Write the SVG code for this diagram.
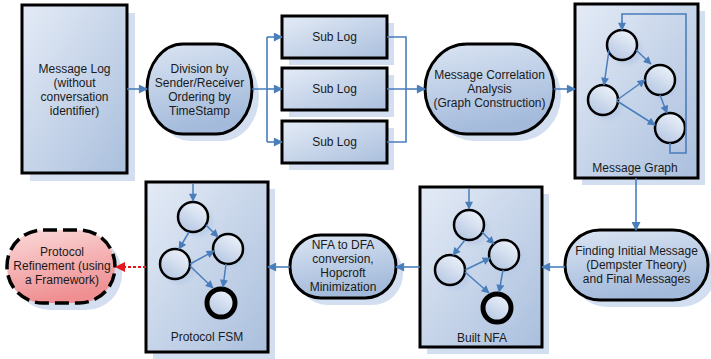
<svg xmlns="http://www.w3.org/2000/svg" width="711" height="359" viewBox="0 0 711 359">
<defs>
  <linearGradient id="gBox" x1="0" y1="0" x2="1" y2="1">
    <stop offset="0" stop-color="#e4ebf6"/>
    <stop offset="1" stop-color="#aabfdd"/>
  </linearGradient>
  <linearGradient id="gPill" x1="0" y1="0" x2="0.3" y2="1">
    <stop offset="0" stop-color="#dbe5f3"/>
    <stop offset="1" stop-color="#a3badb"/>
  </linearGradient>
  <linearGradient id="gCirc" x1="0.8" y1="0" x2="0.2" y2="1">
    <stop offset="0" stop-color="#eef3fa"/>
    <stop offset="1" stop-color="#b4c6e2"/>
  </linearGradient>
  <linearGradient id="gRed" x1="0" y1="0" x2="0.3" y2="1">
    <stop offset="0" stop-color="#fbdada"/>
    <stop offset="1" stop-color="#ef8f92"/>
  </linearGradient>
  <filter id="blur" x="-30%" y="-30%" width="160%" height="160%">
    <feGaussianBlur stdDeviation="2"/>
  </filter>
  <marker id="ah" viewBox="0 0 10 10" refX="9" refY="5" markerWidth="10" markerHeight="9" markerUnits="userSpaceOnUse" orient="auto">
    <path d="M0,0 L10,5 L0,10 Z" fill="#4a7ebb"/>
  </marker>
  <marker id="ahs" viewBox="0 0 10 10" refX="9" refY="5" markerWidth="9" markerHeight="8" markerUnits="userSpaceOnUse" orient="auto">
    <path d="M0,0 L10,5 L0,10 Z" fill="#4a7ebb"/>
  </marker>
  <marker id="ahr" viewBox="0 0 10 10" refX="9" refY="5" markerWidth="11" markerHeight="10" markerUnits="userSpaceOnUse" orient="auto">
    <path d="M0,0 L10,5 L0,10 Z" fill="#e8141b"/>
  </marker>
</defs>
<style>
  .box { fill: url(#gBox); stroke: #000; stroke-width: 3; }
  .pill { fill: url(#gPill); stroke: #000; stroke-width: 3; }
  .shadow { fill: #d3dff0; }
  .cshadow { fill: #b9cbe6; filter: url(#blur); opacity: 0.8; }
  .circ { fill: url(#gCirc); stroke: #000; stroke-width: 2.5; }
  .final { fill: url(#gCirc); stroke: #000; stroke-width: 5; }
  .t { font-family: "Liberation Sans", Arial, sans-serif; font-size: 12px; fill: #1a1a1a; text-anchor: middle; }
  .c { fill: none; stroke: #4a7ebb; stroke-width: 1.6; }
  .ca { fill: none; stroke: #4a7ebb; stroke-width: 1.6; marker-end: url(#ah); }
  .ce { fill: none; stroke: #4a7ebb; stroke-width: 1.5; marker-end: url(#ahs); }
</style>

<g id="message-log">
  <rect class="shadow" x="30" y="13" width="105" height="168"/>
  <rect class="box" x="22" y="5" width="105" height="168"/>
  <text class="t" x="74.5" y="73">Message Log</text>
  <text class="t" x="74.5" y="87">(without</text>
  <text class="t" x="74.5" y="101">conversation</text>
  <text class="t" x="74.5" y="115">identifier)</text>
</g>

<g id="division">
  <rect class="shadow" x="154" y="51" width="105" height="90" rx="36" ry="45"/>
  <rect class="pill" x="147" y="44" width="105" height="90" rx="36" ry="45"/>
  <text class="t" x="199.5" y="73">Division by</text>
  <text class="t" x="199.5" y="87">Sender/Receiver</text>
  <text class="t" x="199.5" y="101">Ordering by</text>
  <text class="t" x="199.5" y="115">TimeStamp</text>
</g>

<g id="sublog-1">
  <rect class="shadow" x="289" y="23" width="105" height="42"/>
  <rect class="box" x="282" y="16" width="105" height="42"/>
  <text class="t" x="334.5" y="41">Sub Log</text>
</g>
<g id="sublog-2">
  <rect class="shadow" x="289" y="75" width="105" height="42"/>
  <rect class="box" x="282" y="68" width="105" height="42"/>
  <text class="t" x="334.5" y="93">Sub Log</text>
</g>
<g id="sublog-3">
  <rect class="shadow" x="289" y="128" width="105" height="42"/>
  <rect class="box" x="282" y="121" width="105" height="42"/>
  <text class="t" x="334.5" y="146">Sub Log</text>
</g>

<g id="correlation">
  <rect class="shadow" x="432" y="51" width="129" height="90" rx="42" ry="45"/>
  <rect class="pill" x="425" y="44" width="129" height="90" rx="42" ry="45"/>
  <text class="t" x="489.5" y="79">Message Correlation</text>
  <text class="t" x="489.5" y="93">Analysis</text>
  <text class="t" x="489.5" y="107">(Graph Construction)</text>
</g>

<g id="message-graph">
  <rect class="shadow" x="582" y="11" width="123" height="174"/>
  <rect class="box" x="575" y="4" width="123" height="174"/>
  <circle class="cshadow" cx="627" cy="50" r="15"/>
  <circle class="cshadow" cx="665" cy="85" r="15"/>
  <circle class="cshadow" cx="608" cy="105" r="15"/>
  <circle class="cshadow" cx="675" cy="133" r="15"/>
  <circle class="circ" cx="622" cy="45" r="15"/>
  <circle class="circ" cx="660" cy="80" r="15"/>
  <circle class="circ" cx="603" cy="100" r="15"/>
  <circle class="circ" cx="670" cy="128" r="15"/>
  <path class="c" d="M670,143 V153 H686 V14 H622 V22"/>
  <path class="ce" d="M622,21 V30"/>
  <path class="ce" d="M636,50 L651,64"/>
  <path class="ce" d="M609,50 L604,85"/>
  <path class="ce" d="M617,100 L645,80"/>
  <path class="ce" d="M617,101 L655,125"/>
  <path class="ce" d="M660,95 L667,113"/>
  <text class="t" x="635" y="172">Message Graph</text>
</g>

<g id="finding">
  <rect class="shadow" x="572" y="237" width="144" height="70" rx="35" ry="35"/>
  <rect class="pill" x="565" y="230" width="143" height="70" rx="35" ry="35"/>
  <text class="t" x="636.5" y="255">Finding Initial Message</text>
  <text class="t" x="636.5" y="269">(Dempster Theory)</text>
  <text class="t" x="636.5" y="283">and Final Messages</text>
</g>

<g id="built-nfa">
  <rect class="shadow" x="427" y="194" width="122" height="160"/>
  <rect class="box" x="420" y="187" width="122" height="160"/>
  <circle class="cshadow" cx="474" cy="230" r="15"/>
  <circle class="cshadow" cx="509" cy="260" r="15"/>
  <circle class="cshadow" cx="455" cy="275" r="15"/>
  <circle class="cshadow" cx="502" cy="313" r="15"/>
  <circle class="circ" cx="469" cy="225" r="15"/>
  <circle class="circ" cx="504" cy="255" r="15"/>
  <circle class="circ" cx="450" cy="270" r="15"/>
  <circle class="final" cx="497" cy="308" r="14"/>
  <path class="ce" d="M469,189 V209"/>
  <path class="ce" d="M482,232 L494,244"/>
  <path class="ce" d="M465,240 L453,255"/>
  <path class="ce" d="M465,270 L490,258"/>
  <path class="ce" d="M465,272 L489,293"/>
  <path class="ce" d="M503,270 L499,292"/>
  <text class="t" x="482" y="342">Built NFA</text>
</g>

<g id="nfa-dfa">
  <rect class="shadow" x="297" y="242" width="106" height="63" rx="31" ry="31"/>
  <rect class="pill" x="290" y="235" width="106" height="63" rx="31" ry="31"/>
  <text class="t" x="343" y="249">NFA to DFA</text>
  <text class="t" x="343" y="263">conversion,</text>
  <text class="t" x="343" y="277">Hopcroft</text>
  <text class="t" x="343" y="291">Minimization</text>
</g>

<g id="protocol-fsm">
  <rect class="shadow" x="153" y="189" width="122" height="170"/>
  <rect class="box" x="146" y="182" width="122" height="170"/>
  <circle class="cshadow" cx="198" cy="222" r="15"/>
  <circle class="cshadow" cx="233" cy="254" r="15"/>
  <circle class="cshadow" cx="180" cy="269" r="15"/>
  <circle class="cshadow" cx="226" cy="308" r="15"/>
  <circle class="circ" cx="193" cy="217" r="15"/>
  <circle class="circ" cx="228" cy="249" r="15"/>
  <circle class="circ" cx="175" cy="264" r="15"/>
  <circle class="final" cx="221" cy="303" r="14"/>
  <path class="ce" d="M193,184 V201"/>
  <path class="ce" d="M206,225 L218,237"/>
  <path class="ce" d="M189,232 L179,249"/>
  <path class="ce" d="M190,264 L214,251"/>
  <path class="ce" d="M190,266 L213,288"/>
  <path class="ce" d="M226,264 L223,287"/>
  <text class="t" x="207" y="341">Protocol FSM</text>
</g>

<g id="refinement">
  <rect class="shadow" x="14" y="237" width="108" height="73" rx="36" ry="36"/>
  <rect x="7" y="230" width="108" height="73" rx="36" ry="36" fill="url(#gRed)" stroke="#000" stroke-width="3.5" stroke-dasharray="14,6"/>
  <text class="t" x="62" y="256">Protocol</text>
  <text class="t" x="62" y="270">Refinement (using</text>
  <text class="t" x="62" y="284">a Framework)</text>
</g>

<g id="connectors">
  <path class="ca" d="M127,89 H147"/>
  <path class="c" d="M252,89 H267 M267,37 V142"/>
  <path class="ca" d="M267,37 H282"/>
  <path class="ca" d="M267,89 H282"/>
  <path class="ca" d="M267,142 H282"/>
  <path class="c" d="M387,37 H406 V142 H387 M387,89 H406"/>
  <path class="ca" d="M406,89 H425"/>
  <path class="ca" d="M554,89 H575"/>
  <path class="ca" d="M636,178 V230"/>
  <path class="ca" d="M565,267 H542"/>
  <path class="ca" d="M420,267 H396"/>
  <path class="ca" d="M290,267 H268"/>
  <path d="M146,267 H116" fill="none" stroke="#e8141b" stroke-width="1.8" stroke-dasharray="3,2" marker-end="url(#ahr)"/>
</g>
</svg>
